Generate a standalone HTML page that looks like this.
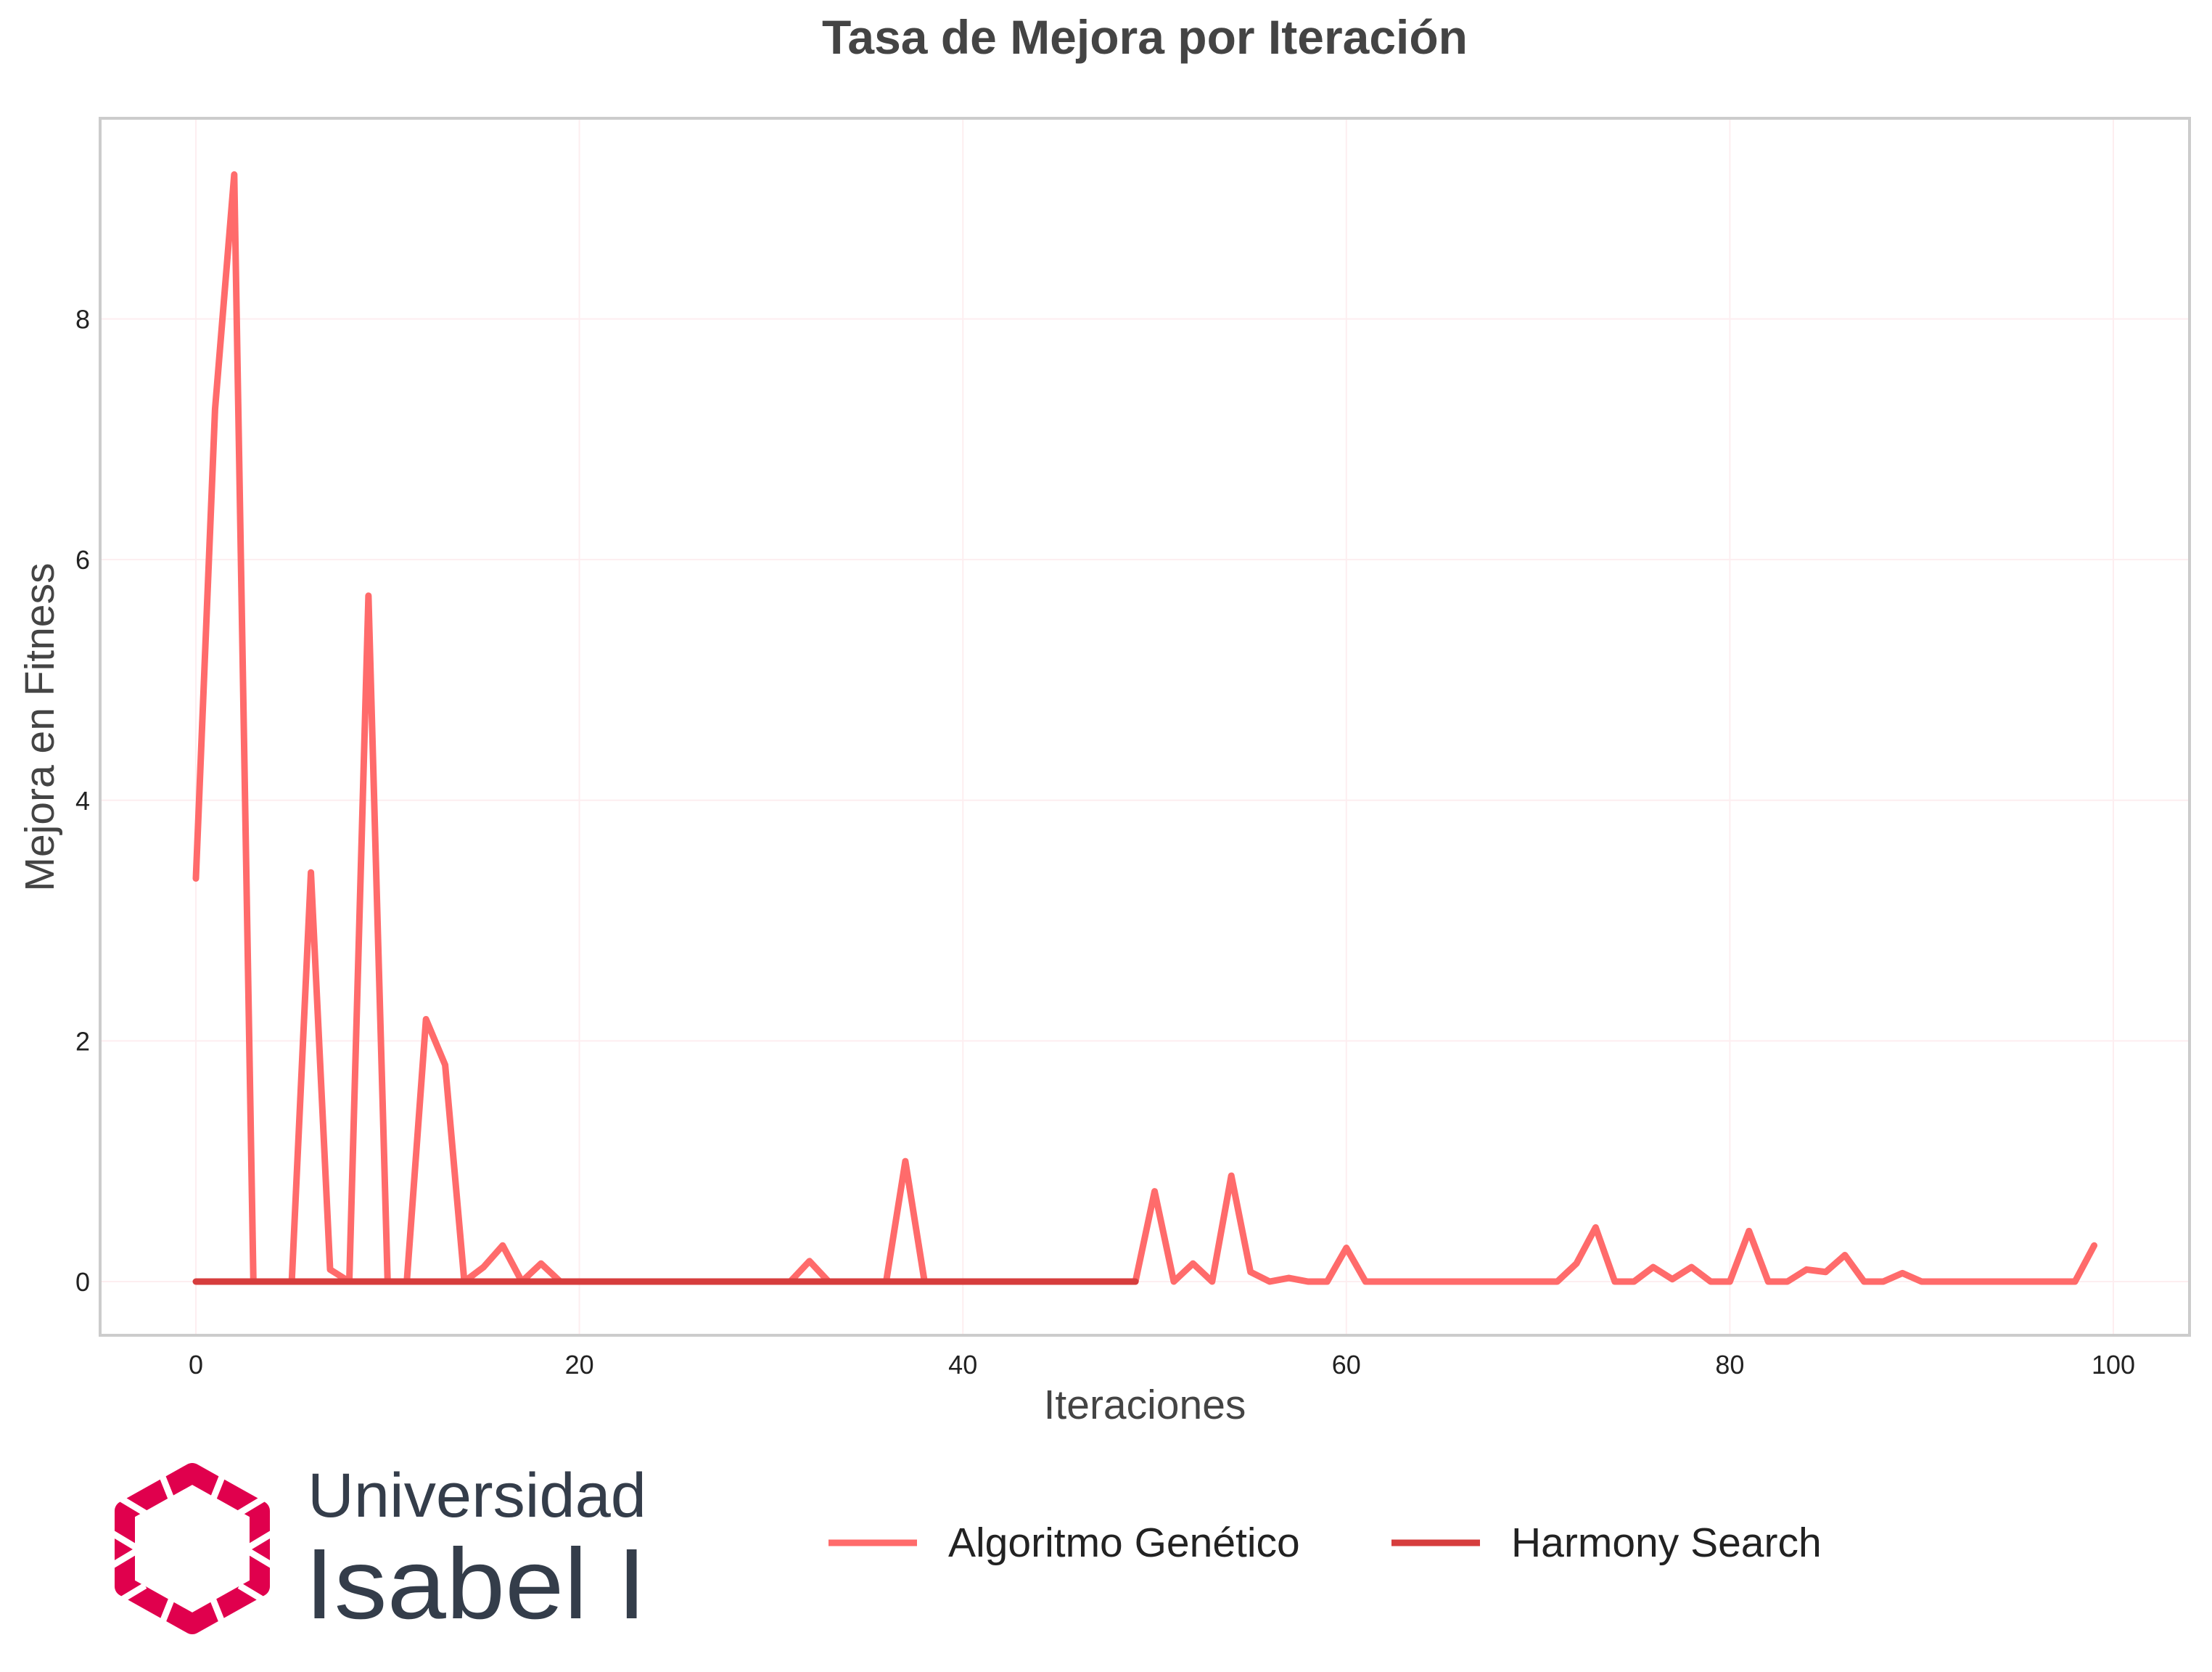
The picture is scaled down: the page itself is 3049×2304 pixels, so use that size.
<!DOCTYPE html>
<html><head><meta charset="utf-8"><style>
html,body{margin:0;padding:0;background:#fff;}
svg{display:block;font-family:"Liberation Sans",sans-serif;}
</style></head><body>
<svg id="chart" width="3049" height="2304" viewBox="0 0 3049 2304" xmlns="http://www.w3.org/2000/svg">
<text x="1578" y="74" text-anchor="middle" font-size="66" font-weight="bold" fill="#444">Tasa de Mejora por Iteración</text>
<rect x="138" y="163" width="2880" height="1677" fill="#fff" stroke="#ccc" stroke-width="4"/>
<g id="grid"></g>
<g id="ticks"></g>
<g id="series"></g>
<text x="1578" y="1955" text-anchor="middle" font-size="57" fill="#444">Iteraciones</text>
<text transform="translate(74,1002) rotate(-90)" text-anchor="middle" font-size="57" fill="#444">Mejora en Fitness</text>
<g>
<g>
<polygon points="265,2030 358,2082 358,2186 265,2238 172,2186 172,2082" fill="none" stroke="#e0004d" stroke-width="28" stroke-linejoin="round"/>
<g stroke="#fff" stroke-width="9">
<line x1="210" y1="2000" x2="250" y2="2100"/><line x1="320" y1="2000" x2="280" y2="2100"/>
<line x1="150" y1="2110" x2="200" y2="2140"/><line x1="380" y1="2110" x2="330" y2="2140"/>
<line x1="150" y1="2160" x2="200" y2="2130"/><line x1="380" y1="2160" x2="330" y2="2130"/>
<line x1="210" y1="2270" x2="250" y2="2170"/><line x1="320" y1="2270" x2="280" y2="2170"/>
<line x1="150" y1="2055" x2="200" y2="2085"/><line x1="380" y1="2055" x2="330" y2="2085"/>
<line x1="150" y1="2215" x2="200" y2="2185"/><line x1="380" y1="2215" x2="330" y2="2185"/>
</g>
</g>
<text x="424" y="2090" font-size="86" fill="#343d4a" textLength="467" lengthAdjust="spacingAndGlyphs">Universidad</text>
<text x="420" y="2230" font-size="138" fill="#343d4a" textLength="471" lengthAdjust="spacingAndGlyphs">Isabel I</text>
</g>
<g>
<line x1="1142" y1="2126" x2="1264" y2="2126" stroke="#ff6b6b" stroke-width="9"/>
<text x="1307" y="2145" font-size="57" fill="#222">Algoritmo Genético</text>
<line x1="1918" y1="2126" x2="2040" y2="2126" stroke="#d63d3d" stroke-width="9"/>
<text x="2083" y="2145" font-size="57" fill="#222">Harmony Search</text>
</g>
</svg>
<script>
const gaValues=[3.35,7.25,9.2,0,0,0,3.4,0.1,0,5.7,0,0,2.18,1.8,0,0.12,0.3,0,0.15,0,
0,0,0,0,0,0,0,0,0,0,0,0,0.17,0,0,0,0,1.0,0,0,
0,0,0,0,0,0,0,0,0,0,0.75,0,0.15,0,0.88,0.08,0,0.03,0,0,
0.28,0,0,0,0,0,0,0,0,0,0,0,0.15,0.45,0,0,0.12,0.02,0.12,0,
0,0.42,0,0,0.1,0.08,0.22,0,0,0.07,0,0,0,0,0,0,0,0,0,0.3];
const hsValues=[0,0,0,0,0,0,0,0,0,0,0,0,0,0,0,0,0,0,0,0,0,0,0,0,0,0,0,0,0,0,0,0,0,0,0,0,0,0,0,0,0,0,0,0,0,0,0,0,0,0];
const xTicks=[0,20,40,60,80,100];
const yTicks=[0,2,4,6,8];
const NS="http://www.w3.org/2000/svg";
function xs(v){return 270+v*(2913-270)/100;}
function ys(v){return 1766-v*(1766-439.5)/8;}
function mk(t,a,p){const e=document.createElementNS(NS,t);for(const k in a)e.setAttribute(k,a[k]);p.appendChild(e);return e;}
const grid=document.getElementById('grid'),ticks=document.getElementById('ticks'),series=document.getElementById('series');
xTicks.forEach(t=>{
 const l=mk('line',{x1:xs(t),x2:xs(t),y1:165,y2:1838,stroke:'#fdeef0','stroke-width':2},grid);
 
 
 const tx=mk('text',{x:xs(t),y:1893,'text-anchor':'middle','font-size':36,fill:'#222'},ticks);
 tx.textContent=t;
 
 
});
yTicks.forEach(t=>{
 const l=mk('line',{x1:140,x2:3016,y1:ys(t),y2:ys(t),stroke:'#fdeef0','stroke-width':2},grid);
 
 
 const tx=mk('text',{x:124,y:ys(t)+13,'text-anchor':'end','font-size':36,fill:'#222'},ticks);
 tx.textContent=t;
 
 
});
const ga=mk('polyline',{points:gaValues.map((v,i)=>xs(i)+','+ys(v)).join(' '),fill:'none',stroke:'#ff6b6b','stroke-width':9,'stroke-linejoin':'round','stroke-linecap':'round'},series);


const hs=mk('polyline',{points:hsValues.map((v,i)=>xs(i)+','+ys(v)).join(' '),fill:'none',stroke:'#d63d3d','stroke-width':9,'stroke-linejoin':'round','stroke-linecap':'round'},series);


</script>
</body></html>
